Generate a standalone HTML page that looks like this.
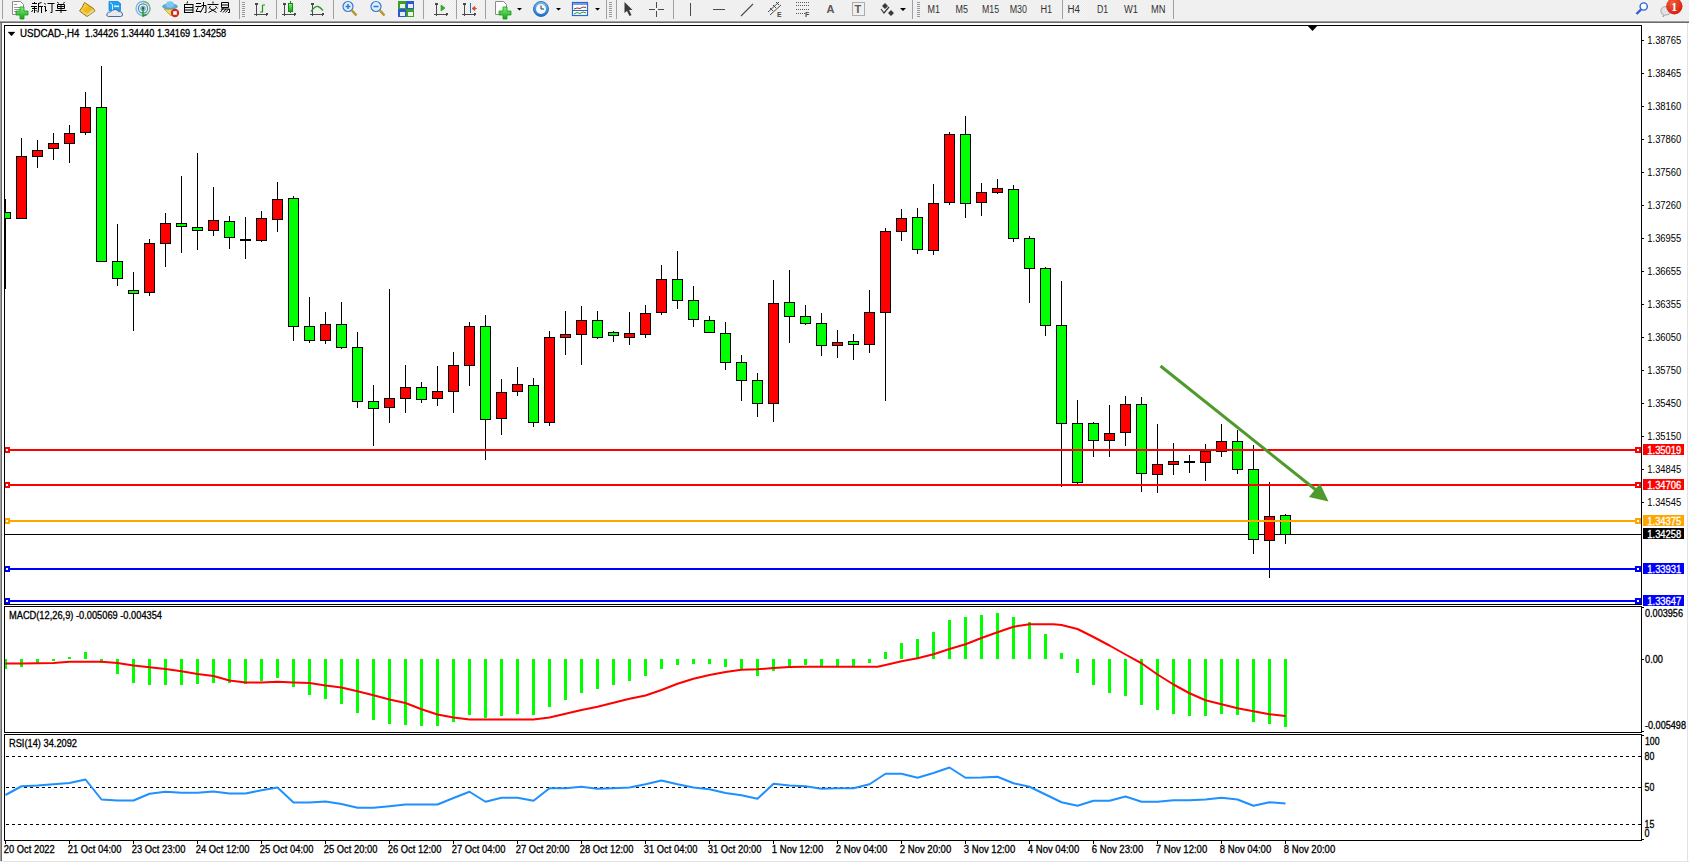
<!DOCTYPE html>
<html><head><meta charset="utf-8"><style>
html,body{margin:0;padding:0;width:1689px;height:863px;overflow:hidden;background:#fff;font-family:"Liberation Sans", sans-serif;}
</style></head><body>
<svg width="1689" height="863" viewBox="0 0 1689 863" style="position:absolute;left:0;top:0"><rect x="0" y="0" width="1689" height="21" fill="#f0f0f0"/><rect x="0" y="21" width="1689" height="1" fill="#a0a0a0"/><rect x="0" y="22" width="1689" height="1" fill="#696969"/><rect x="0" y="23" width="1689" height="840" fill="#ffffff"/><rect x="0" y="23" width="1" height="839" fill="#a0a0a0"/><rect x="1" y="23" width="1" height="839" fill="#696969"/><rect x="1687" y="23" width="1" height="839" fill="#e3e3e3"/><rect x="0" y="861" width="1689" height="1" fill="#e3e3e3"/><defs><clipPath id="cm"><rect x="5" y="26" width="1636" height="578"/></clipPath><clipPath id="cmacd"><rect x="5" y="607" width="1636" height="125"/></clipPath><clipPath id="crsi"><rect x="5" y="735" width="1636" height="105"/></clipPath></defs><g clip-path="url(#cm)" shape-rendering="crispEdges"><rect x="5" y="534" width="1636" height="1" fill="#000"/><rect x="5" y="199" width="1" height="90" fill="#000"/><rect x="0" y="212" width="11" height="7" fill="#000"/><rect x="1" y="213" width="9" height="5" fill="#00ff00"/><rect x="21" y="138" width="1" height="80" fill="#000"/><rect x="16" y="156" width="11" height="63" fill="#000"/><rect x="17" y="157" width="9" height="61" fill="#ff0000"/><rect x="37" y="140" width="1" height="28" fill="#000"/><rect x="32" y="150" width="11" height="7" fill="#000"/><rect x="33" y="151" width="9" height="5" fill="#ff0000"/><rect x="53" y="133" width="1" height="27" fill="#000"/><rect x="48" y="143" width="11" height="6" fill="#000"/><rect x="49" y="144" width="9" height="4" fill="#ff0000"/><rect x="69" y="125" width="1" height="38" fill="#000"/><rect x="64" y="133" width="11" height="11" fill="#000"/><rect x="65" y="134" width="9" height="9" fill="#ff0000"/><rect x="85" y="92" width="1" height="43" fill="#000"/><rect x="80" y="107" width="11" height="26" fill="#000"/><rect x="81" y="108" width="9" height="24" fill="#ff0000"/><rect x="101" y="66" width="1" height="196" fill="#000"/><rect x="96" y="107" width="11" height="155" fill="#000"/><rect x="97" y="108" width="9" height="153" fill="#00ff00"/><rect x="117" y="224" width="1" height="62" fill="#000"/><rect x="112" y="261" width="11" height="18" fill="#000"/><rect x="113" y="262" width="9" height="16" fill="#00ff00"/><rect x="133" y="272" width="1" height="59" fill="#000"/><rect x="128" y="290" width="11" height="4" fill="#000"/><rect x="129" y="291" width="9" height="2" fill="#00ff00"/><rect x="149" y="239" width="1" height="57" fill="#000"/><rect x="144" y="243" width="11" height="50" fill="#000"/><rect x="145" y="244" width="9" height="48" fill="#ff0000"/><rect x="165" y="213" width="1" height="54" fill="#000"/><rect x="160" y="223" width="11" height="21" fill="#000"/><rect x="161" y="224" width="9" height="19" fill="#ff0000"/><rect x="181" y="176" width="1" height="77" fill="#000"/><rect x="176" y="223" width="11" height="4" fill="#000"/><rect x="177" y="224" width="9" height="2" fill="#00ff00"/><rect x="197" y="153" width="1" height="97" fill="#000"/><rect x="192" y="227" width="11" height="4" fill="#000"/><rect x="193" y="228" width="9" height="2" fill="#00ff00"/><rect x="213" y="187" width="1" height="49" fill="#000"/><rect x="208" y="220" width="11" height="11" fill="#000"/><rect x="209" y="221" width="9" height="9" fill="#ff0000"/><rect x="229" y="216" width="1" height="33" fill="#000"/><rect x="224" y="221" width="11" height="17" fill="#000"/><rect x="225" y="222" width="9" height="15" fill="#00ff00"/><rect x="245" y="217" width="1" height="42" fill="#000"/><rect x="240" y="239" width="11" height="2" fill="#000"/><rect x="261" y="211" width="1" height="31" fill="#000"/><rect x="256" y="218" width="11" height="23" fill="#000"/><rect x="257" y="219" width="9" height="21" fill="#ff0000"/><rect x="277" y="182" width="1" height="50" fill="#000"/><rect x="272" y="199" width="11" height="21" fill="#000"/><rect x="273" y="200" width="9" height="19" fill="#ff0000"/><rect x="293" y="196" width="1" height="145" fill="#000"/><rect x="288" y="198" width="11" height="129" fill="#000"/><rect x="289" y="199" width="9" height="127" fill="#00ff00"/><rect x="309" y="297" width="1" height="46" fill="#000"/><rect x="304" y="326" width="11" height="15" fill="#000"/><rect x="305" y="327" width="9" height="13" fill="#00ff00"/><rect x="325" y="312" width="1" height="32" fill="#000"/><rect x="320" y="324" width="11" height="17" fill="#000"/><rect x="321" y="325" width="9" height="15" fill="#ff0000"/><rect x="341" y="302" width="1" height="47" fill="#000"/><rect x="336" y="324" width="11" height="24" fill="#000"/><rect x="337" y="325" width="9" height="22" fill="#00ff00"/><rect x="357" y="332" width="1" height="76" fill="#000"/><rect x="352" y="347" width="11" height="55" fill="#000"/><rect x="353" y="348" width="9" height="53" fill="#00ff00"/><rect x="373" y="385" width="1" height="61" fill="#000"/><rect x="368" y="401" width="11" height="8" fill="#000"/><rect x="369" y="402" width="9" height="6" fill="#00ff00"/><rect x="389" y="289" width="1" height="134" fill="#000"/><rect x="384" y="398" width="11" height="10" fill="#000"/><rect x="385" y="399" width="9" height="8" fill="#ff0000"/><rect x="405" y="365" width="1" height="48" fill="#000"/><rect x="400" y="387" width="11" height="12" fill="#000"/><rect x="401" y="388" width="9" height="10" fill="#ff0000"/><rect x="421" y="382" width="1" height="21" fill="#000"/><rect x="416" y="387" width="11" height="13" fill="#000"/><rect x="417" y="388" width="9" height="11" fill="#00ff00"/><rect x="437" y="366" width="1" height="40" fill="#000"/><rect x="432" y="391" width="11" height="8" fill="#000"/><rect x="433" y="392" width="9" height="6" fill="#ff0000"/><rect x="453" y="352" width="1" height="61" fill="#000"/><rect x="448" y="365" width="11" height="27" fill="#000"/><rect x="449" y="366" width="9" height="25" fill="#ff0000"/><rect x="469" y="322" width="1" height="64" fill="#000"/><rect x="464" y="326" width="11" height="40" fill="#000"/><rect x="465" y="327" width="9" height="38" fill="#ff0000"/><rect x="485" y="315" width="1" height="145" fill="#000"/><rect x="480" y="326" width="11" height="94" fill="#000"/><rect x="481" y="327" width="9" height="92" fill="#00ff00"/><rect x="501" y="379" width="1" height="56" fill="#000"/><rect x="496" y="392" width="11" height="27" fill="#000"/><rect x="497" y="393" width="9" height="25" fill="#ff0000"/><rect x="517" y="367" width="1" height="29" fill="#000"/><rect x="512" y="384" width="11" height="8" fill="#000"/><rect x="513" y="385" width="9" height="6" fill="#ff0000"/><rect x="533" y="378" width="1" height="49" fill="#000"/><rect x="528" y="385" width="11" height="38" fill="#000"/><rect x="529" y="386" width="9" height="36" fill="#00ff00"/><rect x="549" y="331" width="1" height="95" fill="#000"/><rect x="544" y="337" width="11" height="86" fill="#000"/><rect x="545" y="338" width="9" height="84" fill="#ff0000"/><rect x="565" y="311" width="1" height="44" fill="#000"/><rect x="560" y="334" width="11" height="4" fill="#000"/><rect x="561" y="335" width="9" height="2" fill="#ff0000"/><rect x="581" y="306" width="1" height="59" fill="#000"/><rect x="576" y="320" width="11" height="15" fill="#000"/><rect x="577" y="321" width="9" height="13" fill="#ff0000"/><rect x="597" y="311" width="1" height="28" fill="#000"/><rect x="592" y="320" width="11" height="18" fill="#000"/><rect x="593" y="321" width="9" height="16" fill="#00ff00"/><rect x="613" y="331" width="1" height="11" fill="#000"/><rect x="608" y="332" width="11" height="4" fill="#000"/><rect x="609" y="333" width="9" height="2" fill="#00ff00"/><rect x="629" y="312" width="1" height="33" fill="#000"/><rect x="624" y="333" width="11" height="5" fill="#000"/><rect x="625" y="334" width="9" height="3" fill="#ff0000"/><rect x="645" y="305" width="1" height="33" fill="#000"/><rect x="640" y="313" width="11" height="22" fill="#000"/><rect x="641" y="314" width="9" height="20" fill="#ff0000"/><rect x="661" y="265" width="1" height="50" fill="#000"/><rect x="656" y="279" width="11" height="34" fill="#000"/><rect x="657" y="280" width="9" height="32" fill="#ff0000"/><rect x="677" y="251" width="1" height="58" fill="#000"/><rect x="672" y="279" width="11" height="22" fill="#000"/><rect x="673" y="280" width="9" height="20" fill="#00ff00"/><rect x="693" y="286" width="1" height="41" fill="#000"/><rect x="688" y="300" width="11" height="20" fill="#000"/><rect x="689" y="301" width="9" height="18" fill="#00ff00"/><rect x="709" y="316" width="1" height="16" fill="#000"/><rect x="704" y="320" width="11" height="13" fill="#000"/><rect x="705" y="321" width="9" height="11" fill="#00ff00"/><rect x="725" y="322" width="1" height="48" fill="#000"/><rect x="720" y="333" width="11" height="30" fill="#000"/><rect x="721" y="334" width="9" height="28" fill="#00ff00"/><rect x="741" y="355" width="1" height="46" fill="#000"/><rect x="736" y="362" width="11" height="19" fill="#000"/><rect x="737" y="363" width="9" height="17" fill="#00ff00"/><rect x="757" y="373" width="1" height="44" fill="#000"/><rect x="752" y="380" width="11" height="24" fill="#000"/><rect x="753" y="381" width="9" height="22" fill="#00ff00"/><rect x="773" y="280" width="1" height="142" fill="#000"/><rect x="768" y="303" width="11" height="101" fill="#000"/><rect x="769" y="304" width="9" height="99" fill="#ff0000"/><rect x="789" y="270" width="1" height="73" fill="#000"/><rect x="784" y="302" width="11" height="15" fill="#000"/><rect x="785" y="303" width="9" height="13" fill="#00ff00"/><rect x="805" y="305" width="1" height="20" fill="#000"/><rect x="800" y="316" width="11" height="8" fill="#000"/><rect x="801" y="317" width="9" height="6" fill="#00ff00"/><rect x="821" y="313" width="1" height="43" fill="#000"/><rect x="816" y="323" width="11" height="23" fill="#000"/><rect x="817" y="324" width="9" height="21" fill="#00ff00"/><rect x="837" y="330" width="1" height="28" fill="#000"/><rect x="832" y="342" width="11" height="4" fill="#000"/><rect x="833" y="343" width="9" height="2" fill="#ff0000"/><rect x="853" y="334" width="1" height="26" fill="#000"/><rect x="848" y="341" width="11" height="4" fill="#000"/><rect x="849" y="342" width="9" height="2" fill="#00ff00"/><rect x="869" y="290" width="1" height="63" fill="#000"/><rect x="864" y="312" width="11" height="33" fill="#000"/><rect x="865" y="313" width="9" height="31" fill="#ff0000"/><rect x="885" y="228" width="1" height="173" fill="#000"/><rect x="880" y="231" width="11" height="82" fill="#000"/><rect x="881" y="232" width="9" height="80" fill="#ff0000"/><rect x="901" y="209" width="1" height="32" fill="#000"/><rect x="896" y="218" width="11" height="14" fill="#000"/><rect x="897" y="219" width="9" height="12" fill="#ff0000"/><rect x="917" y="208" width="1" height="46" fill="#000"/><rect x="912" y="217" width="11" height="33" fill="#000"/><rect x="913" y="218" width="9" height="31" fill="#00ff00"/><rect x="933" y="184" width="1" height="71" fill="#000"/><rect x="928" y="203" width="11" height="48" fill="#000"/><rect x="929" y="204" width="9" height="46" fill="#ff0000"/><rect x="949" y="132" width="1" height="73" fill="#000"/><rect x="944" y="134" width="11" height="69" fill="#000"/><rect x="945" y="135" width="9" height="67" fill="#ff0000"/><rect x="965" y="116" width="1" height="102" fill="#000"/><rect x="960" y="134" width="11" height="70" fill="#000"/><rect x="961" y="135" width="9" height="68" fill="#00ff00"/><rect x="981" y="183" width="1" height="33" fill="#000"/><rect x="976" y="192" width="11" height="11" fill="#000"/><rect x="977" y="193" width="9" height="9" fill="#ff0000"/><rect x="997" y="179" width="1" height="15" fill="#000"/><rect x="992" y="188" width="11" height="5" fill="#000"/><rect x="993" y="189" width="9" height="3" fill="#ff0000"/><rect x="1013" y="185" width="1" height="57" fill="#000"/><rect x="1008" y="189" width="11" height="50" fill="#000"/><rect x="1009" y="190" width="9" height="48" fill="#00ff00"/><rect x="1029" y="236" width="1" height="67" fill="#000"/><rect x="1024" y="238" width="11" height="31" fill="#000"/><rect x="1025" y="239" width="9" height="29" fill="#00ff00"/><rect x="1045" y="267" width="1" height="69" fill="#000"/><rect x="1040" y="268" width="11" height="58" fill="#000"/><rect x="1041" y="269" width="9" height="56" fill="#00ff00"/><rect x="1061" y="281" width="1" height="206" fill="#000"/><rect x="1056" y="325" width="11" height="99" fill="#000"/><rect x="1057" y="326" width="9" height="97" fill="#00ff00"/><rect x="1077" y="400" width="1" height="84" fill="#000"/><rect x="1072" y="423" width="11" height="60" fill="#000"/><rect x="1073" y="424" width="9" height="58" fill="#00ff00"/><rect x="1093" y="422" width="1" height="35" fill="#000"/><rect x="1088" y="423" width="11" height="18" fill="#000"/><rect x="1089" y="424" width="9" height="16" fill="#00ff00"/><rect x="1109" y="405" width="1" height="52" fill="#000"/><rect x="1104" y="433" width="11" height="8" fill="#000"/><rect x="1105" y="434" width="9" height="6" fill="#ff0000"/><rect x="1125" y="396" width="1" height="50" fill="#000"/><rect x="1120" y="404" width="11" height="29" fill="#000"/><rect x="1121" y="405" width="9" height="27" fill="#ff0000"/><rect x="1141" y="397" width="1" height="95" fill="#000"/><rect x="1136" y="404" width="11" height="70" fill="#000"/><rect x="1137" y="405" width="9" height="68" fill="#00ff00"/><rect x="1157" y="424" width="1" height="69" fill="#000"/><rect x="1152" y="464" width="11" height="11" fill="#000"/><rect x="1153" y="465" width="9" height="9" fill="#ff0000"/><rect x="1173" y="443" width="1" height="32" fill="#000"/><rect x="1168" y="461" width="11" height="4" fill="#000"/><rect x="1169" y="462" width="9" height="2" fill="#ff0000"/><rect x="1189" y="455" width="1" height="18" fill="#000"/><rect x="1184" y="461" width="11" height="2" fill="#000"/><rect x="1205" y="444" width="1" height="37" fill="#000"/><rect x="1200" y="451" width="11" height="12" fill="#000"/><rect x="1201" y="452" width="9" height="10" fill="#ff0000"/><rect x="1221" y="424" width="1" height="33" fill="#000"/><rect x="1216" y="441" width="11" height="11" fill="#000"/><rect x="1217" y="442" width="9" height="9" fill="#ff0000"/><rect x="1237" y="430" width="1" height="44" fill="#000"/><rect x="1232" y="441" width="11" height="29" fill="#000"/><rect x="1233" y="442" width="9" height="27" fill="#00ff00"/><rect x="1253" y="445" width="1" height="109" fill="#000"/><rect x="1248" y="469" width="11" height="71" fill="#000"/><rect x="1249" y="470" width="9" height="69" fill="#00ff00"/><rect x="1269" y="482" width="1" height="96" fill="#000"/><rect x="1264" y="516" width="11" height="25" fill="#000"/><rect x="1265" y="517" width="9" height="23" fill="#ff0000"/><rect x="1285" y="514" width="1" height="30" fill="#000"/><rect x="1280" y="515" width="11" height="20" fill="#000"/><rect x="1281" y="516" width="9" height="18" fill="#00ff00"/><rect x="5" y="449" width="1636" height="2" fill="#ff0000"/><rect x="4" y="447" width="6" height="6" fill="#ff0000"/><rect x="6" y="449" width="2" height="2" fill="#fff"/><rect x="1635" y="447" width="6" height="6" fill="#ff0000"/><rect x="1637" y="449" width="2" height="2" fill="#fff"/><rect x="5" y="484" width="1636" height="2" fill="#ff0000"/><rect x="4" y="482" width="6" height="6" fill="#ff0000"/><rect x="6" y="484" width="2" height="2" fill="#fff"/><rect x="1635" y="482" width="6" height="6" fill="#ff0000"/><rect x="1637" y="484" width="2" height="2" fill="#fff"/><rect x="5" y="520" width="1636" height="2" fill="#ffa500"/><rect x="4" y="518" width="6" height="6" fill="#ffa500"/><rect x="6" y="520" width="2" height="2" fill="#fff"/><rect x="1635" y="518" width="6" height="6" fill="#ffa500"/><rect x="1637" y="520" width="2" height="2" fill="#fff"/><rect x="5" y="568" width="1636" height="2" fill="#0000ff"/><rect x="4" y="566" width="6" height="6" fill="#0000ff"/><rect x="6" y="568" width="2" height="2" fill="#fff"/><rect x="1635" y="566" width="6" height="6" fill="#0000ff"/><rect x="1637" y="568" width="2" height="2" fill="#fff"/><rect x="5" y="600" width="1636" height="2" fill="#0000ff"/><rect x="4" y="598" width="6" height="6" fill="#0000ff"/><rect x="6" y="600" width="2" height="2" fill="#fff"/><rect x="1635" y="598" width="6" height="6" fill="#0000ff"/><rect x="1637" y="600" width="2" height="2" fill="#fff"/></g><g clip-path="url(#cm)"><line x1="1160.5" y1="366" x2="1316" y2="490" stroke="#4e9a2c" stroke-width="3"/><polygon points="1309,497 1320,483.5 1328.5,501.5" fill="#4e9a2c"/></g><polygon points="1307.8,26 1317.2,26 1312.5,31" fill="#000"/><g shape-rendering="crispEdges" fill="#000"><rect x="4" y="25" width="1638" height="1"/><rect x="4" y="25" width="1" height="580"/><rect x="1641" y="25" width="1" height="580"/><rect x="4" y="604" width="1638" height="1"/><rect x="4" y="606" width="1638" height="1"/><rect x="4" y="606" width="1" height="127"/><rect x="1641" y="606" width="1" height="127"/><rect x="4" y="732" width="1638" height="1"/><rect x="4" y="734" width="1638" height="1"/><rect x="4" y="734" width="1" height="107"/><rect x="1641" y="734" width="1" height="107"/><rect x="4" y="840" width="1638" height="1"/></g><g shape-rendering="crispEdges" fill="#000"><rect x="1642" y="40" width="2" height="1"/><rect x="1642" y="73" width="2" height="1"/><rect x="1642" y="106" width="2" height="1"/><rect x="1642" y="139" width="2" height="1"/><rect x="1642" y="172" width="2" height="1"/><rect x="1642" y="205" width="2" height="1"/><rect x="1642" y="238" width="2" height="1"/><rect x="1642" y="271" width="2" height="1"/><rect x="1642" y="304" width="2" height="1"/><rect x="1642" y="337" width="2" height="1"/><rect x="1642" y="370" width="2" height="1"/><rect x="1642" y="403" width="2" height="1"/><rect x="1642" y="436" width="2" height="1"/><rect x="1642" y="469" width="2" height="1"/><rect x="1642" y="502" width="2" height="1"/></g><g style='font-family:"Liberation Sans", sans-serif;font-size:10px' fill="#000"><text x="1647.3" y="44" textLength="34" lengthAdjust="spacingAndGlyphs">1.38765</text><text x="1647.3" y="77" textLength="34" lengthAdjust="spacingAndGlyphs">1.38465</text><text x="1647.3" y="110" textLength="34" lengthAdjust="spacingAndGlyphs">1.38160</text><text x="1647.3" y="143" textLength="34" lengthAdjust="spacingAndGlyphs">1.37860</text><text x="1647.3" y="176" textLength="34" lengthAdjust="spacingAndGlyphs">1.37560</text><text x="1647.3" y="209" textLength="34" lengthAdjust="spacingAndGlyphs">1.37260</text><text x="1647.3" y="242" textLength="34" lengthAdjust="spacingAndGlyphs">1.36955</text><text x="1647.3" y="275" textLength="34" lengthAdjust="spacingAndGlyphs">1.36655</text><text x="1647.3" y="308" textLength="34" lengthAdjust="spacingAndGlyphs">1.36355</text><text x="1647.3" y="341" textLength="34" lengthAdjust="spacingAndGlyphs">1.36050</text><text x="1647.3" y="374" textLength="34" lengthAdjust="spacingAndGlyphs">1.35750</text><text x="1647.3" y="407" textLength="34" lengthAdjust="spacingAndGlyphs">1.35450</text><text x="1647.3" y="440" textLength="34" lengthAdjust="spacingAndGlyphs">1.35150</text><text x="1647.3" y="473" textLength="34" lengthAdjust="spacingAndGlyphs">1.34845</text><text x="1647.3" y="506" textLength="34" lengthAdjust="spacingAndGlyphs">1.34545</text></g><g shape-rendering="crispEdges"><rect x="1643" y="444" width="41" height="11" fill="#ff0000"/><rect x="1643" y="479" width="41" height="11" fill="#ff0000"/><rect x="1643" y="515" width="41" height="11" fill="#ffa500"/><rect x="1643" y="528" width="41" height="11" fill="#000000"/><rect x="1643" y="563" width="41" height="11" fill="#0000ff"/><rect x="1643" y="595" width="41" height="11" fill="#0000ff"/></g><g style='font-family:"Liberation Sans", sans-serif;font-size:10px' fill="#fff" stroke="#fff" stroke-width="0.3"><text x="1647.3" y="454" textLength="34" lengthAdjust="spacingAndGlyphs">1.35019</text><text x="1647.3" y="489" textLength="34" lengthAdjust="spacingAndGlyphs">1.34706</text><text x="1647.3" y="525" textLength="34" lengthAdjust="spacingAndGlyphs">1.34375</text><text x="1647.3" y="538" textLength="34" lengthAdjust="spacingAndGlyphs">1.34258</text><text x="1647.3" y="573" textLength="34" lengthAdjust="spacingAndGlyphs">1.33931</text><text x="1647.3" y="605" textLength="34" lengthAdjust="spacingAndGlyphs">1.33647</text></g><g clip-path="url(#cmacd)" shape-rendering="crispEdges" fill="#00ff00"><rect x="4" y="659" width="3" height="10"/><rect x="20" y="659" width="3" height="8"/><rect x="36" y="659" width="3" height="4"/><rect x="52" y="659" width="3" height="2"/><rect x="68" y="657" width="3" height="2"/><rect x="84" y="652" width="3" height="7"/><rect x="100" y="659" width="3" height="4"/><rect x="116" y="659" width="3" height="15"/><rect x="132" y="659" width="3" height="24"/><rect x="148" y="659" width="3" height="26"/><rect x="164" y="659" width="3" height="26"/><rect x="180" y="659" width="3" height="26"/><rect x="196" y="659" width="3" height="25"/><rect x="212" y="659" width="3" height="24"/><rect x="228" y="659" width="3" height="24"/><rect x="244" y="659" width="3" height="25"/><rect x="260" y="659" width="3" height="22"/><rect x="276" y="659" width="3" height="19"/><rect x="292" y="659" width="3" height="28"/><rect x="308" y="659" width="3" height="36"/><rect x="324" y="659" width="3" height="40"/><rect x="340" y="659" width="3" height="45"/><rect x="356" y="659" width="3" height="54"/><rect x="372" y="659" width="3" height="61"/><rect x="388" y="659" width="3" height="65"/><rect x="404" y="659" width="3" height="66"/><rect x="420" y="659" width="3" height="67"/><rect x="436" y="659" width="3" height="67"/><rect x="452" y="659" width="3" height="63"/><rect x="468" y="659" width="3" height="56"/><rect x="484" y="659" width="3" height="59"/><rect x="500" y="659" width="3" height="57"/><rect x="516" y="659" width="3" height="55"/><rect x="532" y="659" width="3" height="56"/><rect x="548" y="659" width="3" height="48"/><rect x="564" y="659" width="3" height="41"/><rect x="580" y="659" width="3" height="34"/><rect x="596" y="659" width="3" height="30"/><rect x="612" y="659" width="3" height="26"/><rect x="628" y="659" width="3" height="22"/><rect x="644" y="659" width="3" height="17"/><rect x="660" y="659" width="3" height="10"/><rect x="676" y="659" width="3" height="6"/><rect x="692" y="659" width="3" height="5"/><rect x="708" y="659" width="3" height="5"/><rect x="724" y="659" width="3" height="8"/><rect x="740" y="659" width="3" height="11"/><rect x="756" y="659" width="3" height="17"/><rect x="772" y="659" width="3" height="12"/><rect x="788" y="659" width="3" height="9"/><rect x="804" y="659" width="3" height="6"/><rect x="820" y="659" width="3" height="8"/><rect x="836" y="659" width="3" height="8"/><rect x="852" y="659" width="3" height="7"/><rect x="868" y="659" width="3" height="4"/><rect x="884" y="652" width="3" height="7"/><rect x="900" y="643" width="3" height="16"/><rect x="916" y="639" width="3" height="20"/><rect x="932" y="632" width="3" height="27"/><rect x="948" y="620" width="3" height="39"/><rect x="964" y="617" width="3" height="42"/><rect x="980" y="615" width="3" height="44"/><rect x="996" y="613" width="3" height="46"/><rect x="1012" y="617" width="3" height="42"/><rect x="1028" y="622" width="3" height="37"/><rect x="1044" y="634" width="3" height="25"/><rect x="1060" y="653" width="3" height="6"/><rect x="1076" y="659" width="3" height="14"/><rect x="1092" y="659" width="3" height="26"/><rect x="1108" y="659" width="3" height="34"/><rect x="1124" y="659" width="3" height="37"/><rect x="1140" y="659" width="3" height="46"/><rect x="1156" y="659" width="3" height="51"/><rect x="1172" y="659" width="3" height="55"/><rect x="1188" y="659" width="3" height="57"/><rect x="1204" y="659" width="3" height="57"/><rect x="1220" y="659" width="3" height="55"/><rect x="1236" y="659" width="3" height="56"/><rect x="1252" y="659" width="3" height="63"/><rect x="1268" y="659" width="3" height="65"/><rect x="1284" y="659" width="3" height="68"/></g><g clip-path="url(#cmacd)"><polyline points="5.5,663.5 21.5,663.5 53.5,663 69.5,661.75 101.5,661.75 117.5,663 133.5,665.5 149.5,667.25 165.5,669 181.5,671.25 197.5,674 213.5,676 229.5,680.5 245.5,682.5 261.5,682.5 277.5,681.75 293.5,682.5 309.5,683 325.5,685.5 341.5,687.5 357.5,691.25 373.5,695.25 389.5,699.5 405.5,703 421.5,709.25 437.5,714.5 453.5,717.5 469.5,719.5 533.5,719.5 549.5,717.5 565.5,713.75 581.5,710 597.5,706.75 613.5,702.75 629.5,698.75 645.5,695.5 661.5,690 677.5,683.75 693.5,678.75 709.5,675 725.5,672 741.5,669.75 757.5,669.25 773.5,668 789.5,667 805.5,666.75 877.5,666.75 885.5,665 901.5,661.25 917.5,658.25 933.5,654.25 949.5,649 965.5,644.25 981.5,638 997.5,632.25 1013.5,626.75 1029.5,624.25 1053.5,624.25 1061.5,625 1077.5,629 1093.5,637 1109.5,645.5 1125.5,654.5 1141.5,663.25 1157.5,674.5 1173.5,684.5 1189.5,693.25 1205.5,700.25 1221.5,704.25 1237.5,708.25 1253.5,711.25 1269.5,714.25 1285.5,716" fill="none" stroke="#ff0000" stroke-width="2" stroke-linejoin="round"/></g><g shape-rendering="crispEdges"><line x1="6" y1="756.5" x2="1641" y2="756.5" stroke="#000" stroke-width="1" stroke-dasharray="3,3"/><line x1="6" y1="787.5" x2="1641" y2="787.5" stroke="#000" stroke-width="1" stroke-dasharray="3,3"/><line x1="6" y1="824.5" x2="1641" y2="824.5" stroke="#000" stroke-width="1" stroke-dasharray="3,3"/></g><g clip-path="url(#crsi)"><polyline points="5.5,795 21.5,786.25 37.5,785.5 53.5,784.25 69.5,783 85.5,779.5 101.5,799.5 117.5,800.5 133.5,800.5 149.5,793.75 165.5,791.75 181.5,792.75 197.5,792.75 213.5,791.5 229.5,793.5 245.5,793.5 261.5,790.25 277.5,787.5 293.5,802.5 309.5,802.5 325.5,801.5 341.5,804 357.5,807.75 373.5,807.75 389.5,806.25 405.5,804.5 421.5,804.5 437.5,804.5 453.5,798 469.5,791.75 485.5,801.75 501.5,797.75 517.5,797.75 533.5,800.75 549.5,788.25 565.5,788.25 581.5,786.75 597.5,788.75 613.5,788.25 629.5,787.5 645.5,784.25 661.5,780.5 677.5,784.25 693.5,787.5 709.5,789.25 725.5,793 741.5,795.25 757.5,798.75 773.5,783.75 789.5,785.5 805.5,786.25 821.5,788.75 837.5,788.25 853.5,788.25 869.5,784.25 885.5,773.75 901.5,773.75 917.5,777.75 933.5,773 949.5,767.5 965.5,777.75 981.5,777.5 997.5,776.75 1013.5,783.25 1029.5,786.75 1045.5,794.5 1061.5,802.25 1077.5,805.75 1093.5,800.75 1109.5,800.75 1125.5,796.5 1141.5,801.75 1157.5,801.75 1173.5,800.25 1189.5,800.25 1205.5,799.5 1221.5,797.75 1237.5,799.5 1253.5,805.75 1269.5,802.25 1285.5,803.5" fill="none" stroke="#1e90ff" stroke-width="2" stroke-linejoin="round"/></g><g shape-rendering="crispEdges" fill="#000"><rect x="1642" y="659" width="2" height="1"/><rect x="1642" y="607" width="2" height="1"/><rect x="1642" y="731" width="2" height="1"/><rect x="1642" y="735" width="2" height="1"/><rect x="1642" y="839" width="2" height="1"/></g><g shape-rendering="crispEdges" fill="#000"><rect x="5" y="841" width="1" height="3"/><rect x="69" y="841" width="1" height="3"/><rect x="133" y="841" width="1" height="3"/><rect x="197" y="841" width="1" height="3"/><rect x="261" y="841" width="1" height="3"/><rect x="325" y="841" width="1" height="3"/><rect x="389" y="841" width="1" height="3"/><rect x="453" y="841" width="1" height="3"/><rect x="517" y="841" width="1" height="3"/><rect x="581" y="841" width="1" height="3"/><rect x="645" y="841" width="1" height="3"/><rect x="709" y="841" width="1" height="3"/><rect x="773" y="841" width="1" height="3"/><rect x="837" y="841" width="1" height="3"/><rect x="901" y="841" width="1" height="3"/><rect x="965" y="841" width="1" height="3"/><rect x="1029" y="841" width="1" height="3"/><rect x="1093" y="841" width="1" height="3"/><rect x="1157" y="841" width="1" height="3"/><rect x="1221" y="841" width="1" height="3"/><rect x="1285" y="841" width="1" height="3"/></g><g style='font-family:"Liberation Sans", sans-serif;font-size:10px' fill="#000" stroke="#000" stroke-width="0.3"><polygon points="8,32 15,32 11.5,36" fill="#000"/><text x="20" y="37" textLength="59.5" lengthAdjust="spacingAndGlyphs">USDCAD-,H4</text><text x="85" y="37" textLength="141.2" lengthAdjust="spacingAndGlyphs">1.34426 1.34440 1.34169 1.34258</text><text x="9" y="619" textLength="153" lengthAdjust="spacingAndGlyphs">MACD(12,26,9) -0.005069 -0.004354</text><text x="9" y="747" textLength="68" lengthAdjust="spacingAndGlyphs">RSI(14) 34.2092</text><text x="1645" y="617" textLength="38" lengthAdjust="spacingAndGlyphs">0.003956</text><text x="1645" y="663" textLength="18" lengthAdjust="spacingAndGlyphs">0.00</text><text x="1645" y="729" textLength="41" lengthAdjust="spacingAndGlyphs">-0.005498</text><text x="1645" y="745" textLength="14.6" lengthAdjust="spacingAndGlyphs">100</text><text x="1644.5" y="760" textLength="9.8" lengthAdjust="spacingAndGlyphs">80</text><text x="1644.5" y="791" textLength="9.8" lengthAdjust="spacingAndGlyphs">50</text><text x="1644.5" y="828" textLength="9.8" lengthAdjust="spacingAndGlyphs">15</text><text x="1644.5" y="837" textLength="5" lengthAdjust="spacingAndGlyphs">0</text><text x="3.8" y="853" textLength="50.94" lengthAdjust="spacingAndGlyphs">20 Oct 2022</text><text x="67.8" y="853" textLength="53.60" lengthAdjust="spacingAndGlyphs">21 Oct 04:00</text><text x="131.8" y="853" textLength="53.60" lengthAdjust="spacingAndGlyphs">23 Oct 23:00</text><text x="195.8" y="853" textLength="53.60" lengthAdjust="spacingAndGlyphs">24 Oct 12:00</text><text x="259.8" y="853" textLength="53.60" lengthAdjust="spacingAndGlyphs">25 Oct 04:00</text><text x="323.8" y="853" textLength="53.60" lengthAdjust="spacingAndGlyphs">25 Oct 20:00</text><text x="387.8" y="853" textLength="53.60" lengthAdjust="spacingAndGlyphs">26 Oct 12:00</text><text x="451.8" y="853" textLength="53.60" lengthAdjust="spacingAndGlyphs">27 Oct 04:00</text><text x="515.8" y="853" textLength="53.60" lengthAdjust="spacingAndGlyphs">27 Oct 20:00</text><text x="579.8" y="853" textLength="53.60" lengthAdjust="spacingAndGlyphs">28 Oct 12:00</text><text x="643.8" y="853" textLength="53.60" lengthAdjust="spacingAndGlyphs">31 Oct 04:00</text><text x="707.8" y="853" textLength="53.60" lengthAdjust="spacingAndGlyphs">31 Oct 20:00</text><text x="771.8" y="853" textLength="51.40" lengthAdjust="spacingAndGlyphs">1 Nov 12:00</text><text x="835.8" y="853" textLength="51.40" lengthAdjust="spacingAndGlyphs">2 Nov 04:00</text><text x="899.8" y="853" textLength="51.40" lengthAdjust="spacingAndGlyphs">2 Nov 20:00</text><text x="963.8" y="853" textLength="51.40" lengthAdjust="spacingAndGlyphs">3 Nov 12:00</text><text x="1027.8" y="853" textLength="51.40" lengthAdjust="spacingAndGlyphs">4 Nov 04:00</text><text x="1091.8" y="853" textLength="51.40" lengthAdjust="spacingAndGlyphs">6 Nov 23:00</text><text x="1155.8" y="853" textLength="51.40" lengthAdjust="spacingAndGlyphs">7 Nov 12:00</text><text x="1219.8" y="853" textLength="51.40" lengthAdjust="spacingAndGlyphs">8 Nov 04:00</text><text x="1283.8" y="853" textLength="51.40" lengthAdjust="spacingAndGlyphs">8 Nov 20:00</text></g></svg>
<svg width="1689" height="22" viewBox="0 0 1689 22" style="position:absolute;left:0;top:0">
<defs>
<linearGradient id="gGreen" x1="0" y1="0" x2="0" y2="1"><stop offset="0" stop-color="#7ef07e"/><stop offset="1" stop-color="#1aa31a"/></linearGradient>
<linearGradient id="gGold" x1="0" y1="0" x2="1" y2="1"><stop offset="0" stop-color="#fff07a"/><stop offset="0.5" stop-color="#e8b812"/><stop offset="1" stop-color="#f4dc6a"/></linearGradient>
<linearGradient id="gBlue" x1="0" y1="0" x2="0" y2="1"><stop offset="0" stop-color="#6fc3f5"/><stop offset="1" stop-color="#1a6fd0"/></linearGradient>
<radialGradient id="gRed" cx="0.4" cy="0.3" r="0.7"><stop offset="0" stop-color="#f0603a"/><stop offset="1" stop-color="#d42010"/></radialGradient>
<pattern id="pPress" width="2" height="2" patternUnits="userSpaceOnUse"><rect width="2" height="2" fill="#f7f7f7"/><rect width="1" height="1" fill="#ebebeb"/><rect x="1" y="1" width="1" height="1" fill="#ebebeb"/></pattern>
</defs>
<g shape-rendering="crispEdges">
<!-- separators -->
<rect x="2" y="0" width="1" height="19" fill="#a0a0a0"/>
<rect x="239" y="0" width="1" height="19" fill="#a0a0a0"/>
<rect x="276" y="0" width="1" height="19" fill="#a0a0a0"/>
<rect x="333" y="0" width="1" height="19" fill="#a0a0a0"/>
<rect x="423" y="0" width="1" height="19" fill="#a0a0a0"/><rect x="428" y="0" width="1" height="19" fill="#a0a0a0"/><rect x="456" y="0" width="1" height="19" fill="#a0a0a0"/>
<rect x="485" y="0" width="1" height="19" fill="#a0a0a0"/>
<rect x="606" y="0" width="1" height="19" fill="#a0a0a0"/>
<rect x="616" y="0" width="1" height="19" fill="#a0a0a0"/>
<rect x="673" y="0" width="1" height="19" fill="#a0a0a0"/>
<rect x="912" y="0" width="1" height="19" fill="#a0a0a0"/>
<rect x="1062" y="0" width="1" height="19" fill="#a0a0a0"/>
<rect x="1173" y="0" width="1" height="19" fill="#a0a0a0"/>
<!-- pressed backgrounds -->
<rect x="277" y="0" width="24" height="19" fill="url(#pPress)"/>
<rect x="428" y="0" width="25" height="19" fill="url(#pPress)"/>
<rect x="457" y="0" width="24" height="19" fill="url(#pPress)"/>
<rect x="617" y="0" width="24" height="19" fill="url(#pPress)"/>
<rect x="1063" y="0" width="25" height="19" fill="url(#pPress)"/>
<!-- grippers -->
<g fill="#9a9a9a">
<rect x="242" y="2" width="3" height="1"/><rect x="242" y="4" width="3" height="1"/><rect x="242" y="6" width="3" height="1"/><rect x="242" y="8" width="3" height="1"/><rect x="242" y="10" width="3" height="1"/><rect x="242" y="12" width="3" height="1"/><rect x="242" y="14" width="3" height="1"/><rect x="242" y="16" width="3" height="1"/>
<rect x="609" y="2" width="3" height="1"/><rect x="609" y="4" width="3" height="1"/><rect x="609" y="6" width="3" height="1"/><rect x="609" y="8" width="3" height="1"/><rect x="609" y="10" width="3" height="1"/><rect x="609" y="12" width="3" height="1"/><rect x="609" y="14" width="3" height="1"/><rect x="609" y="16" width="3" height="1"/>
<rect x="917" y="2" width="3" height="1"/><rect x="917" y="4" width="3" height="1"/><rect x="917" y="6" width="3" height="1"/><rect x="917" y="8" width="3" height="1"/><rect x="917" y="10" width="3" height="1"/><rect x="917" y="12" width="3" height="1"/><rect x="917" y="14" width="3" height="1"/><rect x="917" y="16" width="3" height="1"/>
</g>
</g>
<!-- new order icon -->
<path d="M12.5,1.5 H20.5 L23.5,4.5 V14.5 H12.5 Z" fill="#fff" stroke="#8a8a8a"/>
<path d="M14,4.5 H17 M14,7.5 H21 M14,9.5 H21 M14,11.5 H19" stroke="#9a9a9a"/>
<path d="M20,7 H24 V11 H28 V15 H24 V19 H20 V15 H16 V11 H20 Z" fill="url(#gGreen)" stroke="#159a15" stroke-width="0.8"/>
<!-- chinese 新订单 -->
<g stroke="#000" stroke-width="1" fill="none">
<path d="M34.5,2 V3 M32,3.5 H37 M31,6.5 H37 M32,8.5 H37 M34.5,6 V13 M33,10 L31.5,12 M35.5,10 L37,11.5 M41.5,2.5 L38.5,3.5 M38.5,3 V9 L38,12.5 M38,6.5 H43 M41.5,6.5 V13"/>
<path d="M44.5,3 L45.5,4.5 M44,6.5 H45.5 V11.5 L47,10 M47.5,3.5 H54.5 M52,3.5 V12.5 H50.5"/>
<path d="M57.5,2 L58.5,3.5 M64.5,2 L63.5,3.5 M57.5,4.5 H64.5 V8.5 H57.5 Z M57.5,6.5 H64.5 M61,4 V13 M55.5,10.5 H66.5"/>
</g>
<!-- book icon -->
<path d="M84.5,2.5 L93.5,8.5 L95,11 L87,16.5 L79.5,11 Q82.5,7.5 84.5,2.5 Z" fill="url(#gGold)" stroke="#9a6412" stroke-width="0.9"/>
<path d="M80.5,11 L87,15.5 L88,14.3 L81.5,9.8 Z" fill="#f0d070"/>
<path d="M87.5,15.8 L94.5,11 L93.5,9.8 L87,14.3 Z" fill="#e8dca8"/>
<!-- cloud db icon -->
<path d="M109,1.5 H118 L120.5,3.5 V10.5 H109 Z" fill="#1aa0f4" stroke="#1a80d8" stroke-width="0.8"/>
<path d="M110,2.5 L112.5,4.5 V10" stroke="#e8f6ff" stroke-width="0.9" fill="none"/>
<rect x="114" y="5.5" width="5" height="1.6" fill="#e8f6ff"/>
<path d="M108.5,16.5 Q106,16.5 107,13.5 Q108.5,11.5 110.5,12 Q112,9.5 115,9.5 Q117.5,9.5 118.5,11.5 Q122,11 122.5,14 Q123,16.5 120.5,16.5 Z" fill="#e4e8f0" stroke="#3a5a90" stroke-width="0.9"/>
<!-- radar icon -->
<circle cx="143" cy="8.5" r="7" fill="none" stroke="#7ab8e0" stroke-width="1.3"/>
<path d="M143,1.5 A7,7 0 0 1 150,8.5 A7,7 0 0 1 143,15.5" fill="none" stroke="#78b888" stroke-width="1.3"/>
<circle cx="143" cy="8.5" r="4.6" fill="none" stroke="#4a88d0" stroke-width="1.2"/>
<circle cx="143" cy="8.5" r="2.3" fill="none" stroke="#5aa86a" stroke-width="1"/>
<circle cx="143" cy="8.5" r="1.4" fill="#1a50b0"/>
<path d="M143,9 V16 L146.5,14.5" fill="none" stroke="#2a9a2a" stroke-width="1.5"/>
<!-- auto trade icon -->
<path d="M164,9 L175,9 L171,16 Z" fill="#f0d860" stroke="#c8a020" stroke-width="0.8"/>
<ellipse cx="170" cy="6.5" rx="7.5" ry="2.5" fill="#5ab0e0" stroke="#3a80b0" stroke-width="0.6"/>
<ellipse cx="170" cy="4.5" rx="4" ry="3.2" fill="#7cc8f0"/>
<circle cx="175" cy="13" r="4.2" fill="#d42a1a"/>
<rect x="173.2" y="11.2" width="3.6" height="3.6" fill="#fff"/>
<!-- chinese 自动交易 -->
<g stroke="#000" stroke-width="1" fill="none">
<path d="M187.5,1.5 L187,3.5 M184.5,4 V13 M193,4 V13 M184.5,4.5 H193 M184.5,7.5 H193 M184.5,10 H193 M184.5,12.5 H193"/>
<path d="M196,3.5 H201 M195.5,6.5 H201.5 M198,7.5 L196,11.5 H201 M201.5,5.5 H206 V12.5 H204.5 M203.5,2 V7 L200.5,12.5"/>
<path d="M213,1.5 V3.5 M207.5,4.5 H218.5 M210.5,6 L209,8.5 M215.5,6 L217.5,8.5 M210,8.5 L216.5,12.5 M216,8.5 L208.5,12.5"/>
<path d="M221.5,2.5 H228.5 V7.5 H221.5 Z M221.5,5 H228.5 M221,9 H229.5 V12.5 H228 M223.5,8 L220.5,12 M226,9 L223,12.5 M228.5,9 L225.5,12.5"/>
</g>
<!-- chart type icons -->
<g stroke="#4a4a4a" stroke-width="1" fill="none" shape-rendering="crispEdges">
<path d="M256.5,3 V16 M254,14.5 H268 M256.5,3 L255,5 M256.5,3 L258,5 M268,14.5 L266,13 M268,14.5 L266,16"/>
<path d="M284.5,3 V16 M282,14.5 H296 M284.5,3 L283,5 M284.5,3 L286,5 M296,14.5 L294,13 M296,14.5 L294,16"/>
<path d="M312.5,3 V16 M310,14.5 H324 M312.5,3 L311,5 M312.5,3 L314,5 M324,14.5 L322,13 M324,14.5 L322,16"/>
<path d="M436.5,3 V16 M434,14.5 H448 M436.5,3 L435,5 M436.5,3 L438,5 M448,14.5 L446,13 M448,14.5 L446,16"/>
<path d="M464.5,3 V16 M462,14.5 H476 M464.5,3 L463,5 M464.5,3 L466,5 M476,14.5 L474,13 M476,14.5 L474,16"/>
</g>
<path d="M262.5,5 V12 H260 M262.5,5 H265" stroke="#1a9a1a" stroke-width="1.2" fill="none"/>
<rect x="288.5" y="3.5" width="4" height="8" fill="url(#gGreen)" stroke="#138a13"/>
<path d="M290.5,1 V3.5 M290.5,11.5 V13" stroke="#138a13"/>
<path d="M311,11.5 Q315,6 318,6.5 Q320,7 323,10.5" stroke="#2a9a2a" stroke-width="1.3" fill="none"/>
<path d="M441,5 L445,8 L441,11 Z" fill="#2ab82a" stroke="#1a8a1a" stroke-width="0.6"/>
<path d="M470.5,3 V13" stroke="#2a6ab0" stroke-width="1"/>
<path d="M472,8.5 L475,6.5 V10.5 Z M474,8.5 H477" fill="#d84a1a" stroke="#d84a1a" stroke-width="0.8"/>
<!-- zoom icons -->
<circle cx="348" cy="6.5" r="5" fill="#dcefff" stroke="#3a7ad0" stroke-width="1.2"/>
<path d="M345.5,6.5 H350.5 M348,4 V9" stroke="#3a7ad0" stroke-width="1.6"/>
<path d="M351.5,10 L356.5,15.5" stroke="#b8962a" stroke-width="2.6"/>
<circle cx="376" cy="6.5" r="5" fill="#dcefff" stroke="#3a7ad0" stroke-width="1.2"/>
<path d="M373.5,6.5 H378.5" stroke="#3a7ad0" stroke-width="1.6"/>
<path d="M379.5,10 L384.5,15.5" stroke="#b8962a" stroke-width="2.6"/>
<!-- tile icon -->
<g shape-rendering="crispEdges">
<rect x="398" y="1" width="8" height="8" fill="#3aa02a"/><rect x="406" y="1" width="8" height="8" fill="#2a5ad0"/>
<rect x="398" y="9" width="8" height="8" fill="#2a5ad0"/><rect x="406" y="9" width="8" height="8" fill="#3aa02a"/>
<rect x="400" y="4" width="5" height="4" fill="#e8f4e8"/><rect x="408" y="4" width="5" height="4" fill="#e8eef8"/>
<rect x="400" y="12" width="5" height="4" fill="#e8eef8"/><rect x="408" y="12" width="5" height="4" fill="#e8f4e8"/>
</g>
<!-- new chart icon -->
<path d="M495.5,1.5 H503.5 L506.5,4.5 V14.5 H495.5 Z" fill="#fff" stroke="#8a8a8a"/>
<path d="M503,7 H507 V11 H511 V15 H507 V19 H503 V15 H499 V11 H503 Z" fill="url(#gGreen)" stroke="#159a15" stroke-width="0.8"/>
<path d="M517,8 H522 L519.5,10.5 Z M556,8 H561 L558.5,10.5 Z M595,8 H600 L597.5,10.5 Z M900,8 H906 L903,11 Z" fill="#000"/>
<!-- clock -->
<circle cx="541" cy="9" r="7.5" fill="url(#gBlue)" stroke="#1a5ab0" stroke-width="0.8"/>
<circle cx="541" cy="9" r="5" fill="#f4f8fc"/>
<path d="M541,5.5 V9 H544" stroke="#333" stroke-width="1" fill="none"/>
<!-- template icon -->
<rect x="572.5" y="2.5" width="15" height="13" fill="#fff" stroke="#2a6ad0" stroke-width="1.2"/>
<rect x="573" y="3" width="14" height="2" fill="#6aa0e8"/>
<path d="M574,9 L577,8 L580,8.5 L583,7 L586,7.5" stroke="#a03020" stroke-width="1" fill="none"/>
<rect x="573" y="10" width="14" height="1" fill="#2a6ad0"/>
<path d="M574,14 L577,12.5 L580,13.5 L583,12 L586,13" stroke="#2a9a2a" stroke-width="1" fill="none"/>
<!-- cursor -->
<path d="M624.5,2 L624.5,13 L627,11 L629.5,16 L631.5,15 L629,10 L632.5,10 Z" fill="#3a3a3a"/>
<!-- crosshair -->
<path d="M649,9.5 H664 M656.5,2 V17" stroke="#4a4a4a" stroke-width="1" shape-rendering="crispEdges"/>
<rect x="655" y="8" width="3" height="3" fill="#f0f0f0"/>
<!-- lines -->
<path d="M690.5,3 V16 M713,9.5 H725" stroke="#4a4a4a" stroke-width="1.2" shape-rendering="crispEdges"/>
<path d="M741,16 L753,4" stroke="#4a4a4a" stroke-width="1.1"/>
<path d="M768,12 L779,2 M770,15 L781,5 M770,8 L773,11 M773,5 L776,8 M776,2 L779,5" stroke="#4a4a4a" stroke-width="1"/>
<text x="777" y="17" style="font-family:'Liberation Sans',sans-serif;font-size:7px;font-weight:bold" fill="#4a4a4a">E</text>
<g fill="#5a5a5a" shape-rendering="crispEdges">
<rect x="796" y="2" width="1" height="1"/><rect x="798" y="2" width="1" height="1"/><rect x="800" y="2" width="1" height="1"/><rect x="802" y="2" width="1" height="1"/><rect x="804" y="2" width="1" height="1"/><rect x="806" y="2" width="1" height="1"/><rect x="808" y="2" width="1" height="1"/>
<rect x="796" y="5" width="1" height="1"/><rect x="798" y="5" width="1" height="1"/><rect x="800" y="5" width="1" height="1"/><rect x="802" y="5" width="1" height="1"/><rect x="804" y="5" width="1" height="1"/><rect x="806" y="5" width="1" height="1"/><rect x="808" y="5" width="1" height="1"/>
<rect x="796" y="9" width="1" height="1"/><rect x="798" y="9" width="1" height="1"/><rect x="800" y="9" width="1" height="1"/><rect x="802" y="9" width="1" height="1"/><rect x="804" y="9" width="1" height="1"/><rect x="806" y="9" width="1" height="1"/><rect x="808" y="9" width="1" height="1"/>
<rect x="796" y="13" width="1" height="1"/><rect x="798" y="13" width="1" height="1"/><rect x="800" y="13" width="1" height="1"/><rect x="802" y="13" width="1" height="1"/><rect x="804" y="13" width="1" height="1"/>
</g>
<text x="805" y="17" style="font-family:'Liberation Sans',sans-serif;font-size:7px;font-weight:bold" fill="#4a4a4a">F</text>
<!-- A and T -->
<text x="826.5" y="13" style="font-family:'Liberation Sans',sans-serif;font-size:11px;font-weight:bold" fill="#5a5a5a">A</text>
<rect x="852.5" y="2.5" width="12" height="13" fill="none" stroke="#6a6a6a" stroke-width="1" stroke-dasharray="1,1"/>
<text x="854.5" y="13" style="font-family:'Liberation Sans',sans-serif;font-size:11px;font-weight:bold" fill="#5a5a5a">T</text>
<!-- arrows icon -->
<path d="M882,6 L885,3 L888,6 L885,9 Z M888,13 L891,10 L894,13 L891,16 Z" fill="#3a3a3a"/>
<path d="M881,9 L884,13 L889,7" stroke="#3a3a3a" stroke-width="1.2" fill="none"/>
<!-- timeframes -->
<g style="font-family:'Liberation Sans',sans-serif;font-size:10px" fill="#333">
<text x="927.5" y="13" textLength="12.5" lengthAdjust="spacingAndGlyphs">M1</text>
<text x="955.5" y="13" textLength="12.5" lengthAdjust="spacingAndGlyphs">M5</text>
<text x="982" y="13" textLength="17" lengthAdjust="spacingAndGlyphs">M15</text>
<text x="1009.7" y="13" textLength="17.3" lengthAdjust="spacingAndGlyphs">M30</text>
<text x="1040.5" y="13" textLength="11.7" lengthAdjust="spacingAndGlyphs">H1</text>
<text x="1067.5" y="13" textLength="12.5" lengthAdjust="spacingAndGlyphs">H4</text>
<text x="1097" y="13" textLength="11.2" lengthAdjust="spacingAndGlyphs">D1</text>
<text x="1124" y="13" textLength="14" lengthAdjust="spacingAndGlyphs">W1</text>
<text x="1151" y="13" textLength="14.5" lengthAdjust="spacingAndGlyphs">MN</text>
</g>
<!-- search -->
<circle cx="1643.7" cy="6.5" r="3.6" fill="#fff" stroke="#2a60d0" stroke-width="1.4"/>
<path d="M1641,9.5 L1636.5,14" stroke="#2a60d0" stroke-width="2.4"/>
<!-- chat bubble + badge -->
<path d="M1661,12 Q1660,7 1666,6.5 Q1672,7 1671,12 Q1670,15.5 1665,15 L1663,17 L1663.5,14.5 Q1661,14 1661,12 Z" fill="#e0e2ea" stroke="#9a9a9a" stroke-width="0.8"/>
<circle cx="1674.3" cy="6.2" r="8.2" fill="url(#gRed)"/>
<text x="1671.2" y="10.8" style="font-family:'Liberation Serif',serif;font-size:12px;font-weight:bold" fill="#fff">1</text>
</svg>

</body></html>
